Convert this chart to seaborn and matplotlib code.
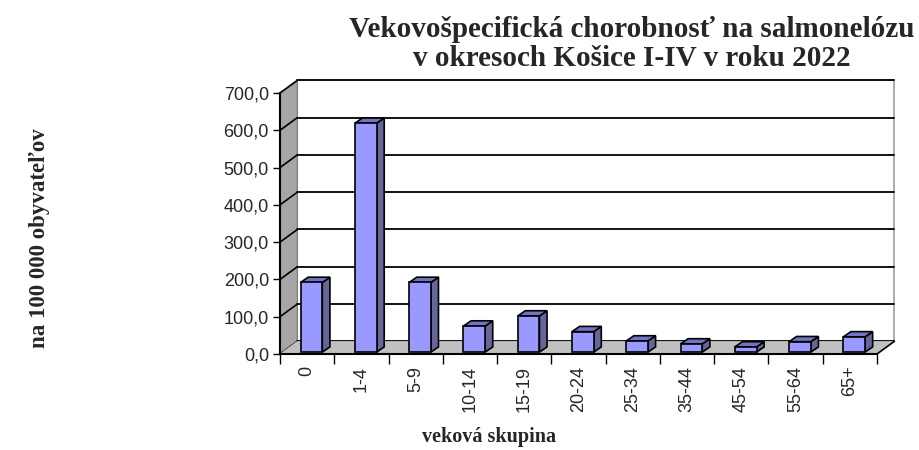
import numpy as np
import pandas as pd
import matplotlib
matplotlib.use("Agg")
import matplotlib.pyplot as plt
import seaborn as sns
from matplotlib.patches import Polygon
from matplotlib.ticker import FuncFormatter, FixedLocator

### data
skupiny = ["0", "1-4", "5-9", "10-14", "15-19", "20-24", "25-34", "35-44", "45-54", "55-64", "65+"]
chorobnost = [187, 614, 187, 70, 97, 55, 30, 22, 14, 28, 41]
y_ticks = [0, 100, 200, 300, 400, 500, 600, 700]

titulok = "Vekovošpecifická chorobnosť na salmonelózu\nv okresoch Košice I-IV v roku 2022"
x_popis = "veková skupina"
y_popis = "na 100 000 obyvateľov"

df = pd.DataFrame({"skupina": skupiny, "hodnota": chorobnost})

sns.set_style("white")
plt.rcParams["font.family"] = ["Liberation Sans", "DejaVu Sans"]
serif = ["Liberation Serif", "DejaVu Serif"]

fig = plt.figure(figsize=(9.19, 4.5), dpi=100)
ax = fig.add_axes([280 / 919, 96 / 450, 597 / 919, 261 / 450])

n = len(skupiny)
DX, DY = 0.32, 34          # depth of the "3d" box in data units
BX, BY = 0.08, 5           # bar front face offset
bdx, bdy = 0.14, 14        # bar depth

### walls and floor
x0, x1 = -0.5, n - 0.5
ax.add_patch(Polygon([(x0 + DX, DY), (x1 + DX, DY), (x1 + DX, 700 + DY), (x0 + DX, 700 + DY)],
                     closed=True, facecolor="white", edgecolor="#a0a0a0", lw=1.2, zorder=0, clip_on=False))
ax.add_patch(Polygon([(x0, 0), (x0, 700), (x0 + DX, 700 + DY), (x0 + DX, DY)],
                     closed=True, facecolor="#a6a6a6", edgecolor="#808080", lw=1, zorder=0.5, clip_on=False))
for v in y_ticks:
    ax.plot([x0 + DX, x1 + DX], [v + DY, v + DY], color="black", lw=1.3, zorder=0.6, clip_on=False)
    ax.plot([x0, x0 + DX], [v, v + DY], color="black", lw=1.2, zorder=0.6, clip_on=False)
ax.add_patch(Polygon([(x0, 0), (x1, 0), (x1 + DX, DY), (x0 + DX, DY)],
                     closed=True, facecolor="#c0c0c0", edgecolor="#c0c0c0", lw=0.5, zorder=1, clip_on=False))
ax.plot([x1, x1 + DX], [0, DY], color="black", lw=1.2, zorder=1.1, clip_on=False)
ax.plot([x0, x1], [0, 0], color="black", lw=1.5, zorder=1.2, clip_on=False)
ax.plot([x0, x0], [0, 700], color="black", lw=1.5, zorder=1.2, clip_on=False)

### bars
sns.barplot(data=df, x="skupina", y="hodnota", order=skupiny, width=0.4,
            color="#9999ff", saturation=1, edgecolor="black", linewidth=1.2, ax=ax, zorder=3)
for p in ax.patches:
    if not hasattr(p, "get_width") or isinstance(p, Polygon):
        continue
    p.set_x(p.get_x() + BX)
    p.set_y(BY)
    p.set_clip_on(False)
    x, w, h = p.get_x(), p.get_width(), p.get_height()
    y = BY
    side = [(x + w, y), (x + w + bdx, y + bdy), (x + w + bdx, y + h + bdy), (x + w, y + h)]
    top = [(x, y + h), (x + bdx, y + h + bdy), (x + w + bdx, y + h + bdy), (x + w, y + h)]
    ax.add_patch(Polygon(side, closed=True, facecolor="#666699", edgecolor="black", lw=1.2, zorder=2.9, clip_on=False))
    ax.add_patch(Polygon(top, closed=True, facecolor="#7373c6", edgecolor="black", lw=1.2, zorder=2.9, clip_on=False))

### axes
ax.set_xlim(x0, x1)
ax.set_ylim(0, 700)
for s in ax.spines.values():
    s.set_visible(False)
ax.set_yticks(y_ticks)
ax.yaxis.set_major_formatter(FuncFormatter(lambda v, pos: f"{v:.1f}".replace(".", ",")))
ax.tick_params(axis="y", left=True, length=5, width=1, color="black", labelsize=13, pad=3)
ax.set_xticks(range(n))
ax.set_xticklabels(skupiny, rotation=90, fontsize=13)
ax.xaxis.set_minor_locator(FixedLocator(np.arange(n + 1) - 0.5))
ax.tick_params(axis="x", which="major", bottom=False, pad=5)
ax.tick_params(axis="x", which="minor", bottom=True, length=7, width=1, color="black")
ax.set_xlabel("")
ax.set_ylabel("")

fig.text(489 / 919, 1 - 437 / 450, x_popis, ha="center", va="center",
         fontsize=14.5, fontweight="bold", family=serif)
fig.text(40 / 919, 1 - 238 / 450, y_popis, ha="center", va="center", rotation=90,
         fontsize=16.5, fontweight="bold", family=serif)
fig.text(632 / 919, 1 - 44 / 450, titulok, ha="center", va="center", linespacing=1.1,
         fontsize=21, fontweight="bold", family=serif)

fig.savefig("out.png", dpi=100)
